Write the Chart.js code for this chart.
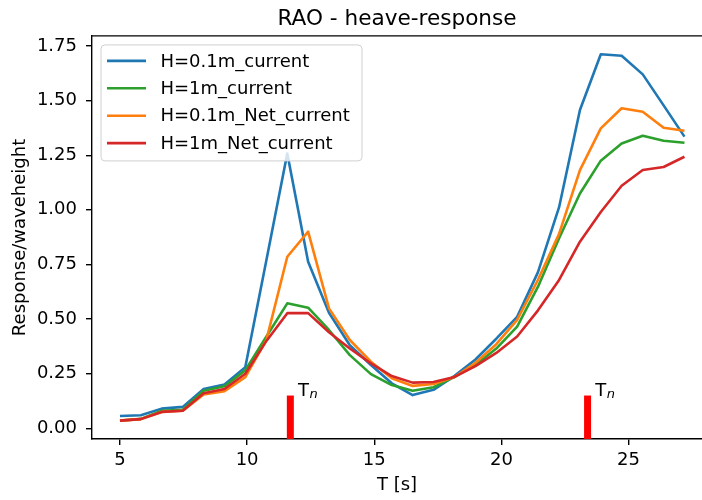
<!DOCTYPE html>
<html>
<head>
<meta charset="utf-8">
<script src="https://cdn.jsdelivr.net/npm/chart.js@4.4.0/dist/chart.umd.min.js"></script>
<style>
  html, body { margin: 0; padding: 0; background: #fff; overflow: hidden; }
</style>
</head>
<body>
<canvas id="rao" width="702" height="500"></canvas>
<script>
// wave periods [s]
const periods = [5.00, 5.82, 6.64, 7.47, 8.29, 9.11, 9.93, 10.76, 11.58, 12.40, 13.22, 14.04, 14.87, 15.69,
                 16.51, 17.33, 18.16, 18.98, 19.80, 20.62, 21.44, 22.27, 23.09, 23.91, 24.73, 25.56, 26.38, 27.20];

// response / waveheight
const h01Current = [0.056, 0.060, 0.090, 0.098, 0.180, 0.200, 0.280, 0.770, 1.258, 0.762, 0.529, 0.380, 0.290, 0.206,
                    0.152, 0.176, 0.240, 0.315, 0.410, 0.510, 0.715, 1.012, 1.457, 1.712, 1.705, 1.620, 1.478, 1.335];
const h1Current = [0.035, 0.043, 0.080, 0.085, 0.172, 0.192, 0.266, 0.420, 0.572, 0.552, 0.450, 0.335, 0.248, 0.198,
                   0.172, 0.188, 0.235, 0.290, 0.365, 0.465, 0.648, 0.870, 1.075, 1.225, 1.304, 1.339, 1.316, 1.307];
const h01NetCurrent = [0.035, 0.042, 0.075, 0.080, 0.155, 0.170, 0.234, 0.405, 0.785, 0.900, 0.549, 0.404, 0.305, 0.229,
                       0.194, 0.203, 0.235, 0.300, 0.385, 0.496, 0.680, 0.890, 1.182, 1.373, 1.465, 1.449, 1.376, 1.362];
const h1NetCurrent = [0.035, 0.042, 0.075, 0.080, 0.160, 0.180, 0.250, 0.400, 0.527, 0.527, 0.440, 0.365, 0.297, 0.239,
                      0.209, 0.212, 0.235, 0.285, 0.345, 0.420, 0.540, 0.679, 0.854, 0.990, 1.110, 1.182, 1.196, 1.243];

// natural periods, marker height
const naturalPeriods = [11.70, 23.39];
const tnTop = 0.15;
const tnBase = -0.1;

const seriesLabels = ['H=0.1m_current', 'H=1m_current', 'H=0.1m_Net_current', 'H=1m_Net_current'];
const seriesValues = [h01Current, h1Current, h01NetCurrent, h1NetCurrent];
const seriesColors = ['#1f77b4', '#2ca02c', '#ff7f0e', '#d62728'];

const FONT = 'DejaVu Sans';
Chart.defaults.font.family = FONT;
Chart.defaults.color = '#000';

const datasets = seriesValues.map((vals, i) => ({
  label: seriesLabels[i],
  data: vals.map((v, k) => ({ x: periods[k], y: v })),
  borderColor: seriesColors[i],
  borderWidth: 2.6,
  borderJoinStyle: 'round',
  fill: false,
  order: 10 - i   // later series on top, like matplotlib
}));

naturalPeriods.forEach(tn => {
  datasets.push({
    data: [{ x: tn, y: tnBase }, { x: tn, y: tnTop }],
    borderColor: '#ff0000',
    borderWidth: 7,
    borderCapStyle: 'butt',
    clip: 0,
    order: 0,
    isMarker: true
  });
});

// top edge of the axes box
const frameTop = {
  id: 'frameTop',
  afterDraw(chart) {
    const { ctx, chartArea: a } = chart;
    ctx.save();
    ctx.strokeStyle = '#000';
    ctx.lineWidth = 1.4;
    ctx.beginPath();
    ctx.moveTo(a.left, a.top);
    ctx.lineTo(a.right, a.top);
    ctx.stroke();
    ctx.restore();
  }
};

// "Tn" labels next to the markers
const tnLabels = {
  id: 'tnLabels',
  afterDatasetsDraw(chart) {
    const ctx = chart.ctx;
    const xs = chart.scales.x, ys = chart.scales.y;
    ctx.save();
    ctx.fillStyle = '#000';
    ctx.textBaseline = 'alphabetic';
    ctx.textAlign = 'left';
    naturalPeriods.forEach(tn => {
      const x = xs.getPixelForValue(tn + 0.3);
      const y = ys.getPixelForValue(tnTop);
      ctx.font = `18px "${FONT}"`;
      ctx.fillText('T', x, y);
      const w = ctx.measureText('T').width;
      ctx.font = `italic 13px "${FONT}"`;
      ctx.fillText('n', x + w + 0.5, y + 2.5);
    });
    ctx.restore();
  }
};

// legend drawn inside the axes, upper left
const innerLegend = {
  id: 'innerLegend',
  afterDraw(chart) {
    const { ctx, chartArea: a } = chart;
    const items = chart.data.datasets.filter(d => !d.isMarker);
    const bx = a.left + 9, by = a.top + 9, bw = 261, bh = 116, r = 4;
    ctx.save();
    ctx.beginPath();
    ctx.roundRect(bx, by, bw, bh, r);
    ctx.fillStyle = 'rgba(255,255,255,0.8)';
    ctx.fill();
    ctx.strokeStyle = '#d0d0d0';
    ctx.lineWidth = 1;
    ctx.stroke();
    ctx.font = `18px "${FONT}"`;
    ctx.textBaseline = 'middle';
    ctx.textAlign = 'left';
    items.forEach((d, i) => {
      const y = by + 16 + i * 27.4;
      ctx.strokeStyle = d.borderColor;
      ctx.lineWidth = 2.6;
      ctx.beginPath();
      ctx.moveTo(bx + 6, y);
      ctx.lineTo(bx + 45, y);
      ctx.stroke();
      ctx.fillStyle = '#000';
      ctx.fillText(d.label, bx + 59.5, y + 1);
    });
    ctx.restore();
  }
};

const ctx = document.getElementById('rao').getContext('2d');
new Chart(ctx, {
  type: 'line',
  data: { datasets },
  options: {
    responsive: false,
    animation: false,
    devicePixelRatio: 1,
    layout: { padding: 0 },
    elements: { point: { radius: 0 }, line: { tension: 0 } },
    plugins: {
      legend: { display: false },
      tooltip: { enabled: false },
      title: {
        display: true,
        text: 'RAO - heave-response',
        fullSize: false,
        color: '#000',
        font: { size: 21.6, weight: 'normal' },
        padding: { top: 6, bottom: 4 }
      }
    },
    scales: {
      x: {
        type: 'linear',
        min: 3.9,
        max: 27.89,
        afterFit: s => { s.height = 61; },
        ticks: {
          stepSize: 5,
          includeBounds: false,
          color: '#000',
          padding: 5,
          font: { size: 18 },
          callback: v => String(v)
        },
        grid: { drawOnChartArea: false, tickLength: 6, color: '#000', lineWidth: 1.4 },
        border: { color: '#000', width: 1.4 },
        title: { display: true, text: 'T [s]', color: '#000', font: { size: 18 }, padding: { top: 0, bottom: 4 } }
      },
      y: {
        min: -0.049,
        max: 1.796,
        afterFit: s => { s.width = 92; },
        ticks: {
          stepSize: 0.25,
          includeBounds: false,
          color: '#000',
          padding: 9,
          font: { size: 18 },
          callback: v => v.toFixed(2)
        },
        grid: { drawOnChartArea: false, tickLength: 6, color: '#000', lineWidth: 1.4 },
        border: { color: '#000', width: 1.4 },
        title: { display: true, text: 'Response/waveheight', color: '#000', font: { size: 18 }, padding: { top: 10, bottom: 0 } }
      }
    }
  },
  plugins: [frameTop, tnLabels, innerLegend]
});
</script>
</body>
</html>
